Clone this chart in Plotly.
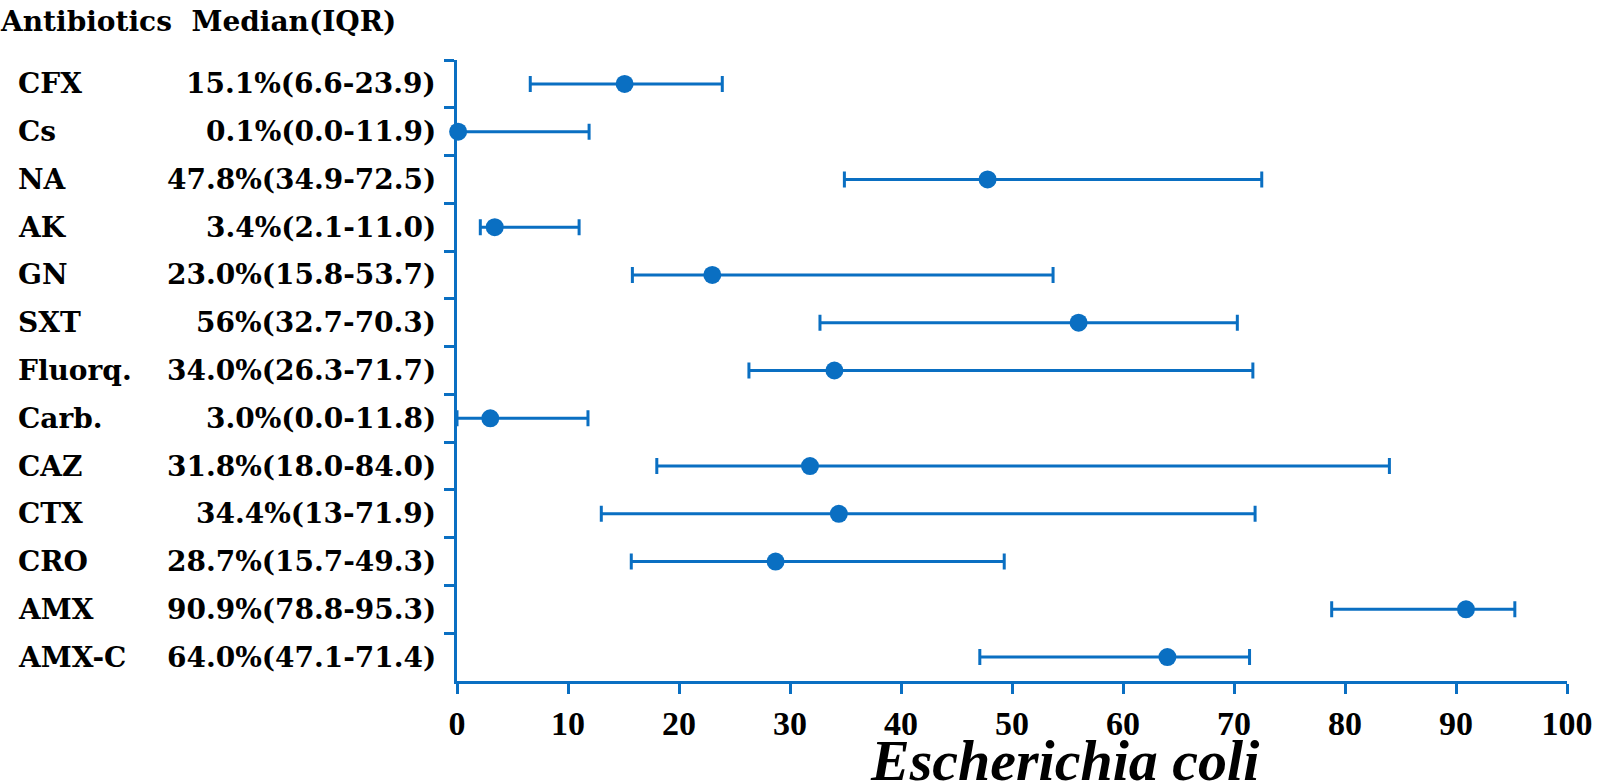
import plotly.graph_objects as go

antibiotics = ["CFX", "Cs", "NA", "AK", "GN", "SXT", "Fluorq.", "Carb.", "CAZ", "CTX", "CRO", "AMX", "AMX-C"]
median = [15.1, 0.1, 47.8, 3.4, 23.0, 56.0, 34.0, 3.0, 31.8, 34.4, 28.7, 90.9, 64.0]
q1 = [6.6, 0.0, 34.9, 2.1, 15.8, 32.7, 26.3, 0.0, 18.0, 13.0, 15.7, 78.8, 47.1]
q3 = [23.9, 11.9, 72.5, 11.0, 53.7, 70.3, 71.7, 11.8, 84.0, 71.9, 49.3, 95.3, 71.4]
label_text = ["15.1%(6.6-23.9)", "0.1%(0.0-11.9)", "47.8%(34.9-72.5)", "3.4%(2.1-11.0)",
              "23.0%(15.8-53.7)", "56%(32.7-70.3)", "34.0%(26.3-71.7)", "3.0%(0.0-11.8)",
              "31.8%(18.0-84.0)", "34.4%(13-71.9)", "28.7%(15.7-49.3)", "90.9%(78.8-95.3)",
              "64.0%(47.1-71.4)"]
x_ticks = [0, 10, 20, 30, 40, 50, 60, 70, 80, 90, 100]

BLUE = "#0a6fc2"
W, H = 1600, 784
ML, MR, MT, MB = 457, 33, 60, 103
PW = W - ML - MR
PH = H - MT - MB
SERIF = "Liberation Serif"

def px_to_paper_x(px):
    return (px - ML) / PW

def px_to_paper_y(py):
    return (H - MB - py) / PH

fig = go.Figure()
fig.add_trace(go.Scatter(
    x=median, y=antibiotics, mode="markers",
    marker=dict(color=BLUE, size=18),
    error_x=dict(type="data", symmetric=False,
                 array=[h - m for h, m in zip(q3, median)],
                 arrayminus=[m - l for m, l in zip(median, q1)],
                 color=BLUE, thickness=3, width=8),
    cliponaxis=False, showlegend=False, hoverinfo="skip",
))

label_font = dict(family="DejaVu Serif", size=28, color="black", weight="bold")
for name, txt in zip(antibiotics, label_text):
    fig.add_annotation(x=px_to_paper_x(16), xref="paper", y=name, yref="y",
                       text=name, showarrow=False, xanchor="left", yanchor="middle",
                       font=label_font)
    fig.add_annotation(x=px_to_paper_x(438), xref="paper", y=name, yref="y",
                       text=txt, showarrow=False, xanchor="right", yanchor="middle",
                       font=label_font)

fig.add_annotation(x=px_to_paper_x(-2), xref="paper", y=px_to_paper_y(22), yref="paper",
                   text="Antibiotics  Median(IQR)", showarrow=False,
                   xanchor="left", yanchor="middle", font=label_font)

fig.add_annotation(x=px_to_paper_x(1064), xref="paper", y=px_to_paper_y(761), yref="paper",
                   text="<i>Escherichia coli</i>", showarrow=False,
                   xanchor="center", yanchor="middle",
                   font=dict(family=SERIF, size=58, color="black", weight="bold"))

fig.update_layout(
    width=W, height=H,
    font=dict(family=SERIF, color="black"),
    margin=dict(l=ML, r=MR, t=MT, b=MB, autoexpand=False),
    plot_bgcolor="white", paper_bgcolor="white",
    xaxis=dict(range=[0, 100], tickvals=x_ticks,
               showgrid=False, zeroline=False,
               showline=True, linecolor=BLUE, linewidth=3,
               ticks="outside", ticklen=10, tickwidth=3, tickcolor=BLUE,
               tickfont=dict(family=SERIF, size=34, color="black", weight="bold"),
               ticklabelstandoff=0),
    yaxis=dict(type="category", categoryorder="array", categoryarray=antibiotics,
               range=[12.5, -0.5], showgrid=False, zeroline=False,
               showline=True, linecolor=BLUE, linewidth=3,
               ticks="outside", tickson="boundaries", ticklen=10, tickwidth=3, tickcolor=BLUE,
               showticklabels=False),
)

fig.write_html("out.html", config={"displayModeBar": False},
               post_script="document.body.style.margin='0';document.body.style.padding='0';")
